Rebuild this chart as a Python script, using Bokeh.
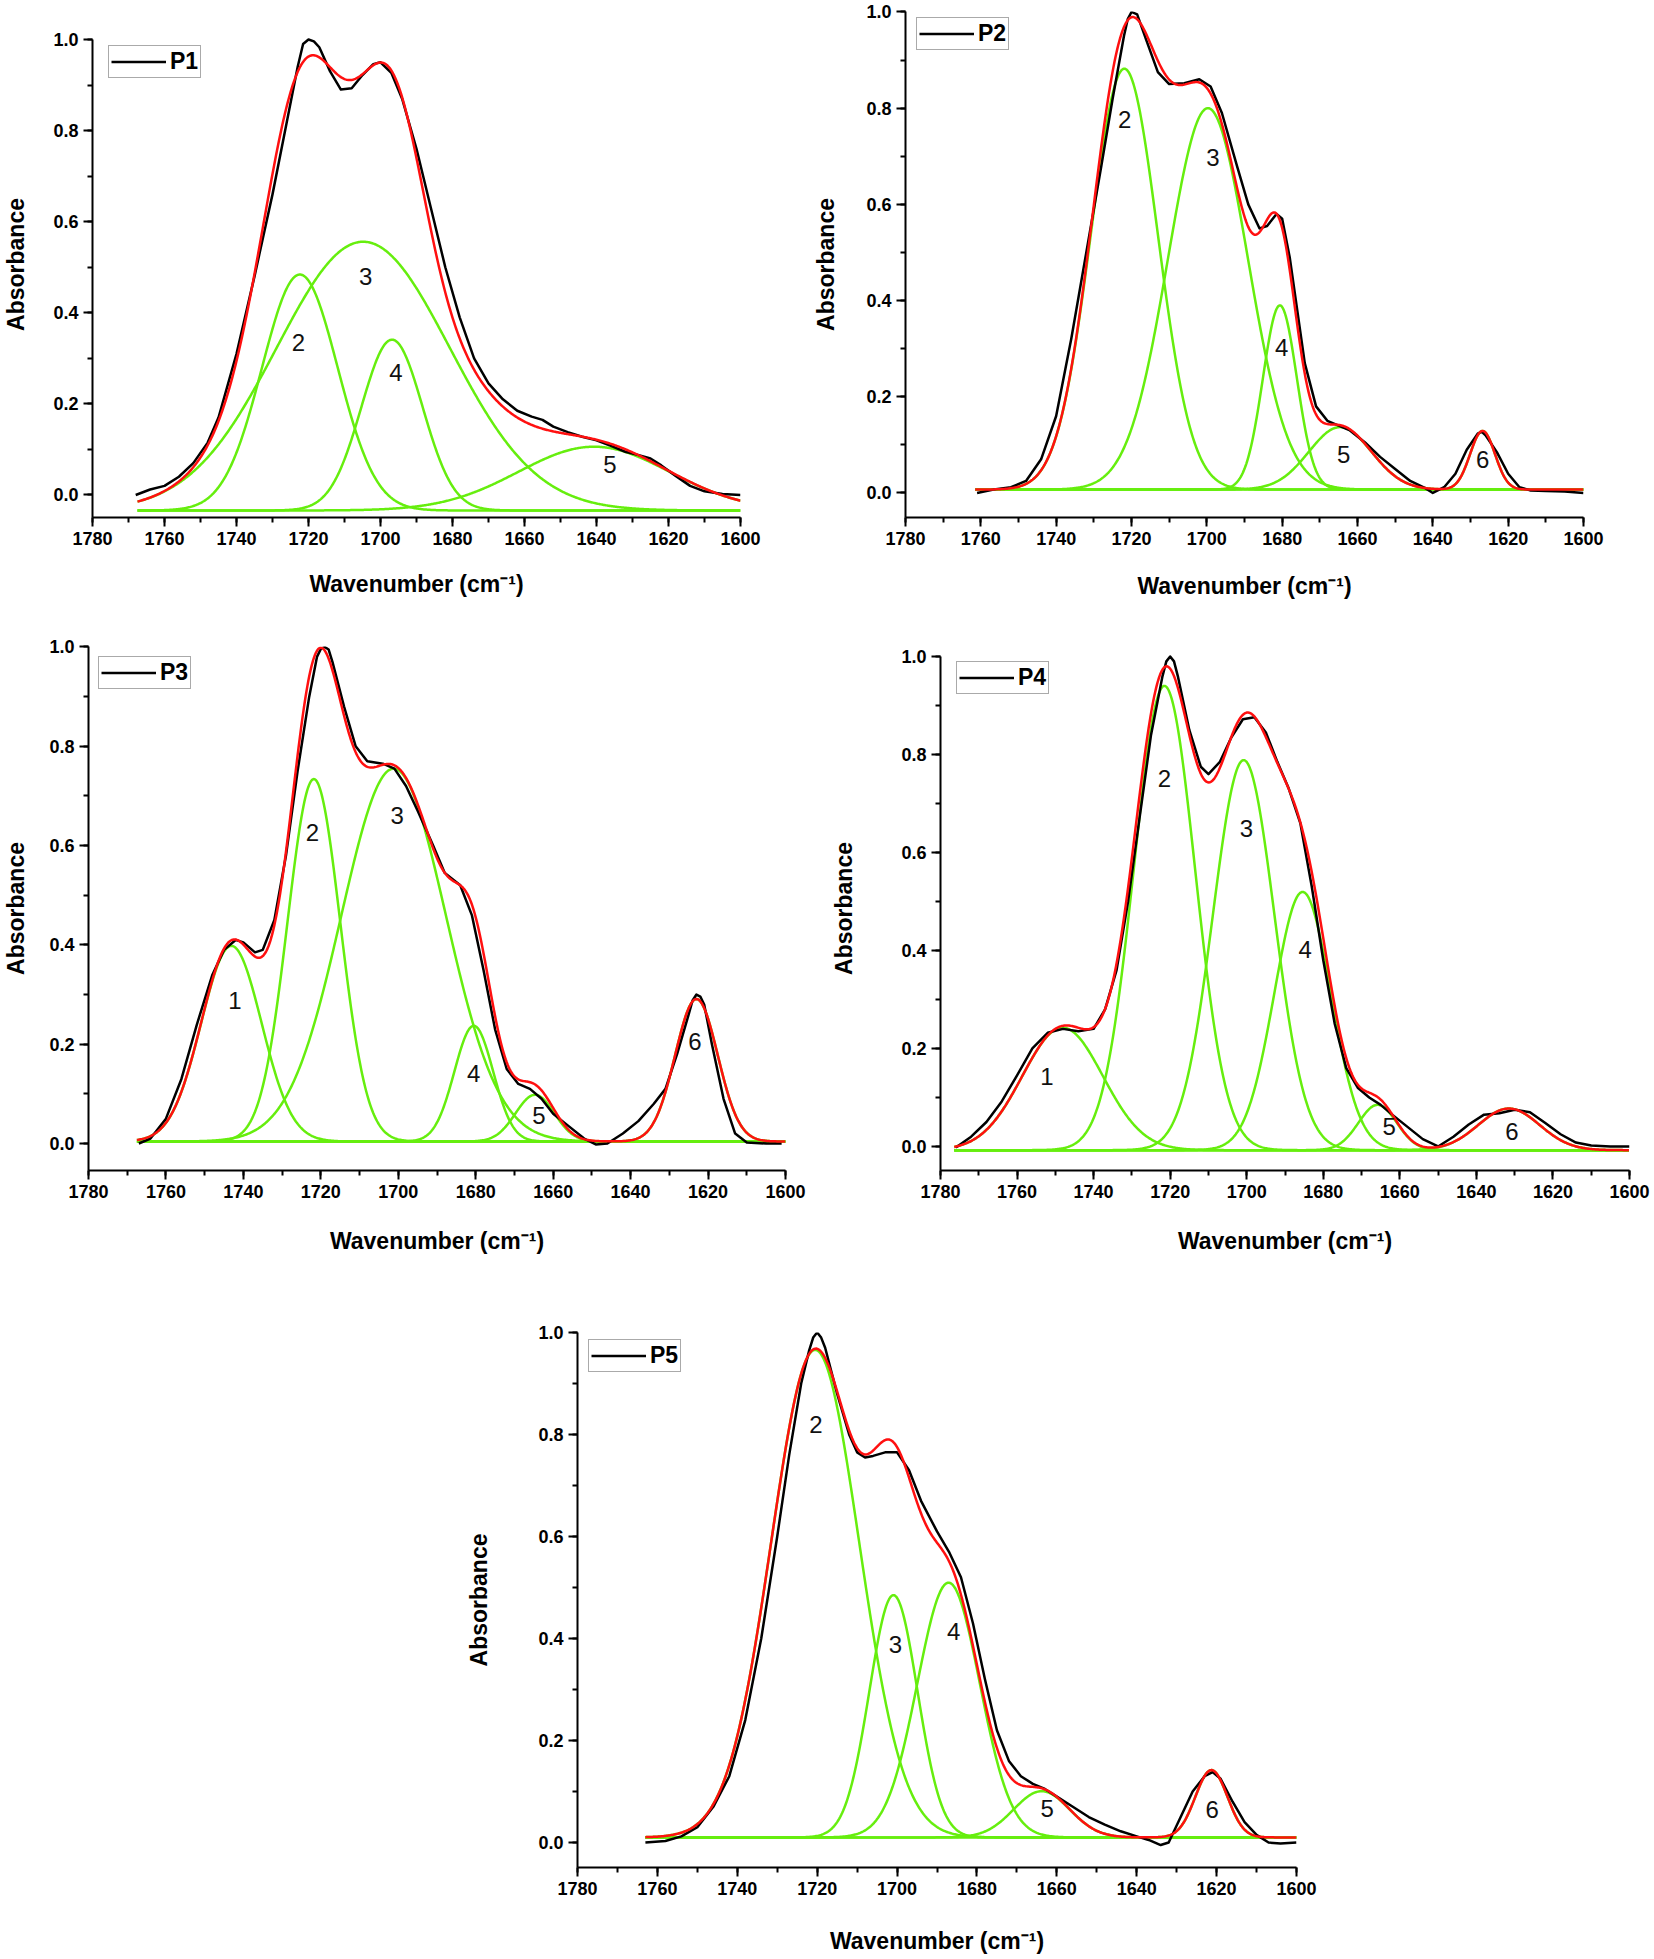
import numpy as np
from bokeh.plotting import figure
from bokeh.models import (Range1d, SingleIntervalTicker, NumeralTickFormatter,
                          Legend, LegendItem, Spacer)
from bokeh.layouts import row, column
from bokeh.embed import file_html
from bokeh.resources import INLINE
from bokeh.core.properties import value

# ---------------- data ----------------
# P1
P1_start = 1767.5
P1_baseline = -0.034
P1_ids = ["2", "3", "4", "5"]
P1_centers = [1722.4, 1704.8, 1696.8, 1640.7]
P1_heights = [0.518, 0.59, 0.375, 0.14]
P1_sigmas = [10.5, 24.0, 8.5, 21.0]
P1_label_wn = [1722.8, 1704.1, 1695.7, 1636.3]
P1_label_abs = [0.334, 0.479, 0.27, 0.067]
P1_meas_wn = [1768, 1764, 1760, 1756, 1752, 1748, 1745, 1740, 1735, 1730, 1726, 1723,
              1721.5, 1720, 1718.5, 1717, 1714, 1711, 1708, 1705, 1702, 1700, 1697, 1694,
              1690, 1686, 1682, 1678, 1674, 1670, 1666, 1662, 1658, 1655, 1652, 1648,
              1644, 1640, 1636, 1632, 1628, 1625, 1622, 1618, 1614, 1610, 1605, 1600]
P1_meas_abs = [0.0, 0.012, 0.02, 0.04, 0.07, 0.115, 0.17, 0.31, 0.48, 0.66, 0.82, 0.94,
               0.99, 1.0, 0.996, 0.983, 0.93, 0.89, 0.893, 0.922, 0.946, 0.95, 0.927, 0.87,
               0.76, 0.63, 0.5, 0.39, 0.3, 0.245, 0.21, 0.185, 0.172, 0.165, 0.15, 0.138,
               0.128, 0.12, 0.108, 0.095, 0.087, 0.08, 0.065, 0.042, 0.02, 0.008, 0.002, 0.0]

# P2
P2_start = 1761.5
P2_baseline = 0.007
P2_ids = ["2", "3", "4", "5", "6"]
P2_centers = [1721.9, 1699.7, 1680.6, 1664.6, 1626.8]
P2_heights = [0.875, 0.793, 0.383, 0.13, 0.122]
P2_sigmas = [8.9, 10.6, 4.5, 8.3, 3.3]
P2_label_wn = [1721.8, 1698.4, 1680.1, 1663.7, 1626.8]
P2_label_abs = [0.776, 0.698, 0.3015, 0.081, 0.069]
P2_meas_wn = [1761, 1756, 1752, 1748, 1744, 1740, 1736, 1732, 1728, 1725, 1722, 1721,
              1720, 1718.5, 1716, 1713, 1710, 1706, 1702, 1699, 1696, 1692, 1689, 1686,
              1684, 1681.5, 1680, 1678, 1676, 1674, 1671, 1668, 1665, 1662, 1658, 1654,
              1650, 1646, 1642, 1640, 1637, 1634, 1631, 1628, 1627, 1626, 1623, 1620,
              1617, 1614, 1610, 1605, 1600]
P2_meas_abs = [0.0, 0.008, 0.012, 0.025, 0.07, 0.16, 0.32, 0.5, 0.68, 0.82, 0.95, 0.985,
               1.0, 0.995, 0.94, 0.875, 0.85, 0.852, 0.86, 0.845, 0.79, 0.68, 0.6, 0.55,
               0.555, 0.58, 0.57, 0.49, 0.38, 0.27, 0.18, 0.15, 0.14, 0.13, 0.105, 0.075,
               0.05, 0.025, 0.01, 0.0, 0.012, 0.04, 0.09, 0.124, 0.127, 0.12, 0.085, 0.04,
               0.012, 0.005, 0.004, 0.003, 0.0]

# P3
P3_start = 1767.5
P3_baseline = 0.004
P3_ids = ["1", "2", "3", "4", "5", "6"]
P3_centers = [1743.1, 1721.8, 1701.2, 1680.5, 1664.7, 1623.0]
P3_heights = [0.394, 0.73, 0.751, 0.233, 0.094, 0.287]
P3_sigmas = [7.8, 6.8, 13.5, 5.0, 5.0, 5.5]
P3_label_wn = [1742.2, 1722.2, 1700.3, 1680.5, 1663.7, 1623.4]
P3_label_abs = [0.289, 0.626, 0.661, 0.141, 0.057, 0.205]
P3_meas_wn = [1767, 1764, 1760, 1756, 1752, 1748, 1745, 1742, 1740, 1737, 1735, 1732,
              1729, 1726, 1723, 1721, 1720, 1719, 1718, 1717, 1714, 1711, 1708, 1704,
              1701, 1698, 1695, 1691, 1688, 1684, 1681, 1678, 1675, 1672, 1669, 1666,
              1663, 1660, 1656, 1652, 1649, 1646, 1642, 1638, 1634, 1631, 1628, 1625,
              1624, 1623, 1622, 1621, 1619, 1616, 1613, 1610, 1605, 1601]
P3_meas_abs = [0.0, 0.01, 0.05, 0.13, 0.24, 0.34, 0.39, 0.41, 0.405, 0.385, 0.39, 0.45,
               0.58, 0.75, 0.9, 0.98, 0.996, 1.0, 0.995, 0.97, 0.88, 0.8, 0.77, 0.765,
               0.755, 0.72, 0.67, 0.6, 0.545, 0.52, 0.46, 0.35, 0.23, 0.15, 0.12, 0.11,
               0.09, 0.06, 0.035, 0.01, -0.002, 0.0, 0.02, 0.045, 0.08, 0.11, 0.18, 0.26,
               0.288, 0.3, 0.296, 0.28, 0.2, 0.09, 0.02, 0.002, 0.0, 0.0]

# P4
P4_start = 1776.4
P4_baseline = -0.0075
P4_ids = ["1", "2", "3", "4", "5", "6"]
P4_centers = [1748.1, 1721.5, 1700.8, 1685.4, 1665.8, 1631.5]
P4_heights = [0.25, 0.9475, 0.796, 0.527, 0.0925, 0.085]
P4_sigmas = [10.5, 8.0, 8.0, 7.4, 5.0, 8.0]
P4_label_wn = [1752.2, 1721.5, 1700.1, 1684.7, 1662.8, 1630.7]
P4_label_abs = [0.143, 0.75, 0.649, 0.403, 0.041, 0.031]
P4_meas_wn = [1776, 1772, 1768, 1764, 1760, 1756, 1752, 1748, 1744, 1740, 1737, 1734,
              1731, 1728, 1725, 1722, 1721, 1720, 1719, 1718, 1715, 1712, 1710, 1707,
              1704, 1701, 1698, 1695, 1692, 1689, 1686, 1683, 1680, 1677, 1674, 1671,
              1668, 1665, 1662, 1658, 1654, 1650, 1646, 1642, 1638, 1634, 1630, 1626,
              1622, 1618, 1614, 1610, 1605, 1600]
P4_meas_abs = [-0.002, 0.02, 0.05, 0.092, 0.145, 0.2, 0.232, 0.24, 0.235, 0.24, 0.28, 0.36,
               0.5, 0.67, 0.84, 0.96, 0.99, 1.0, 0.99, 0.96, 0.85, 0.775, 0.76, 0.785,
               0.835, 0.872, 0.876, 0.845, 0.785, 0.73, 0.66, 0.53, 0.38, 0.25, 0.16, 0.12,
               0.1, 0.085, 0.065, 0.04, 0.015, 0.0, 0.02, 0.045, 0.065, 0.068, 0.075, 0.07,
               0.048, 0.025, 0.008, 0.002, 0.0, 0.0]

# P5
P5_start = 1763.0
P5_baseline = 0.01
P5_ids = ["2", "3", "4", "5", "6"]
P5_centers = [1720.5, 1700.9, 1687.1, 1663.8, 1621.3]
P5_heights = [0.956, 0.475, 0.4995, 0.0906, 0.132]
P5_sigmas = [11.0, 6.0, 7.8, 7.0, 4.0]
P5_label_wn = [1720.3, 1700.4, 1685.8, 1662.4, 1621.1]
P5_label_abs = [0.82, 0.389, 0.414, 0.066, 0.064]
P5_meas_wn = [1763, 1758, 1754, 1750, 1746, 1742, 1738, 1734, 1730, 1727, 1724, 1722,
              1721, 1720, 1719, 1718, 1715, 1712, 1710, 1708, 1706, 1703, 1700, 1697,
              1694, 1690, 1687, 1684, 1681, 1678, 1675, 1672, 1669, 1666, 1663, 1660,
              1656, 1652, 1648, 1644, 1640, 1637, 1634, 1632, 1629, 1626, 1623, 1621,
              1619, 1616, 1613, 1610, 1607, 1604, 1600]
P5_meas_abs = [0.0, 0.003, 0.012, 0.03, 0.07, 0.13, 0.24, 0.4, 0.6, 0.76, 0.9, 0.965,
               0.99, 1.0, 0.99, 0.97, 0.88, 0.8, 0.765, 0.755, 0.758, 0.765, 0.765, 0.73,
               0.67, 0.61, 0.57, 0.52, 0.43, 0.32, 0.22, 0.16, 0.13, 0.115, 0.105, 0.09,
               0.07, 0.05, 0.035, 0.022, 0.012, 0.005, -0.005, 0.0, 0.05, 0.1, 0.13, 0.138,
               0.125, 0.08, 0.04, 0.015, 0.0, -0.002, 0.0]

X_TICK_STEP = 20
Y_TICK_STEP = 0.2

# ---------------- styling ----------------
FONT = "Liberation Sans"
GREEN = "#66EE0E"
RED = "#FF1010"
BLACK = "#000000"
LW = 2.5


def panel(name, start, baseline, ids, centers, heights, sigmas, lab_wn, lab_abs,
          meas_wn, meas_abs, geo):
    p = figure(width=geo["w"], height=geo["h"], output_backend="svg",
               toolbar_location=None, x_range=Range1d(1780, 1600),
               y_range=Range1d(geo["ylo"], geo["yhi"]),
               min_border_left=geo["bl"], min_border_right=geo["br"],
               min_border_top=geo["bt"], min_border_bottom=geo["bb"])
    p.outline_line_color = None
    p.xgrid.visible = False
    p.ygrid.visible = False
    p.background_fill_color = "white"
    p.border_fill_color = "white"

    wn = np.arange(start, 1600 - 0.001, -0.25)
    total = np.full_like(wn, baseline)
    for c, h, s in zip(centers, heights, sigmas):
        comp = h * np.exp(-((wn - c) ** 2) / (2 * s * s))
        total += comp
        p.line(wn, baseline + comp, line_color=GREEN, line_width=LW, line_join="round")

    meas = p.line(meas_wn, meas_abs, line_color=BLACK, line_width=LW, line_join="round")
    p.line(wn, total, line_color=RED, line_width=LW, line_join="round")

    p.text(x=lab_wn, y=lab_abs, text=ids, text_font=value(FONT), text_font_size="24px",
           text_align="center", text_baseline="middle", text_color="#111111")

    p.xaxis.ticker = SingleIntervalTicker(interval=X_TICK_STEP, num_minor_ticks=2)
    p.yaxis.ticker = SingleIntervalTicker(interval=Y_TICK_STEP, num_minor_ticks=2)
    p.yaxis.formatter = NumeralTickFormatter(format="0.0")
    p.yaxis.bounds = (geo["ylo"], 1.0)
    p.xaxis.axis_label = "Wavenumber (cm\u207b\u00b9)"
    p.yaxis.axis_label = "Absorbance"
    for ax in (p.xaxis[0], p.yaxis[0]):
        ax.axis_line_width = 2
        ax.axis_line_color = "black"
        ax.major_tick_line_width = 2
        ax.minor_tick_line_width = 2
        ax.major_tick_out = 9
        ax.major_tick_in = 0
        ax.minor_tick_out = 5
        ax.minor_tick_in = 0
        ax.major_label_text_font = FONT
        ax.major_label_text_font_style = "bold"
        ax.major_label_text_font_size = "18px"
        ax.major_label_text_color = "black"
        ax.major_label_standoff = 5
        ax.axis_label_text_font = FONT
        ax.axis_label_text_font_style = "bold"
        ax.axis_label_text_font_size = "23px"
        ax.axis_label_text_color = "black"
    p.xaxis[0].axis_label_standoff = geo["xs"]
    p.yaxis[0].axis_label_standoff = geo["ys"]

    fh = geo["h"] - geo["bt"] - geo["bb"]
    box_h = 30
    legend = Legend(items=[LegendItem(label=name, renderers=[meas])],
                    location=(geo["lx"], fh - geo["ly"] - box_h),
                    label_text_font=FONT, label_text_font_style="bold",
                    label_text_font_size="23px", label_text_color="black",
                    glyph_width=55, glyph_height=23, label_height=23,
                    label_standoff=4, padding=2, spacing=0, margin=0,
                    border_line_color="#555555", border_line_width=1,
                    background_fill_color="white", background_fill_alpha=1.0)
    p.add_layout(legend)
    return p


# frames of one row share top/bottom; each panel keeps its own y scale
G1 = dict(w=810, h=615, bl=92, br=70, bt=11, bb=98, xs=23, ys=21, lx=16, ly=37,
          ylo=-0.0494, yhi=-0.0494 + 506 / 455.5)
G2 = dict(w=803, h=615, bl=90, br=30, bt=11, bb=98, xs=25, ys=24, lx=11, ly=9,
          ylo=-0.051, yhi=-0.051 + 506 / 481.0)
G3 = dict(w=828, h=685, bl=83, br=43, bt=31, bb=130, xs=27, ys=17, lx=10, ly=13,
          ylo=-0.0544, yhi=-0.0544 + 524 / 496.5)
G4 = dict(w=826, h=685, bl=108, br=25, bt=31, bb=130, xs=27, ys=41, lx=16, ly=18,
          ylo=-0.049, yhi=-0.049 + 524 / 490.0)
G5 = dict(w=876, h=659, bl=117, br=40, bt=32, bb=92, xs=30, ys=43, lx=11, ly=10,
          ylo=-0.049, yhi=1.0)

f1 = panel("P1", P1_start, P1_baseline, P1_ids, P1_centers, P1_heights, P1_sigmas,
           P1_label_wn, P1_label_abs, P1_meas_wn, P1_meas_abs, G1)
f2 = panel("P2", P2_start, P2_baseline, P2_ids, P2_centers, P2_heights, P2_sigmas,
           P2_label_wn, P2_label_abs, P2_meas_wn, P2_meas_abs, G2)
f3 = panel("P3", P3_start, P3_baseline, P3_ids, P3_centers, P3_heights, P3_sigmas,
           P3_label_wn, P3_label_abs, P3_meas_wn, P3_meas_abs, G3)
f4 = panel("P4", P4_start, P4_baseline, P4_ids, P4_centers, P4_heights, P4_sigmas,
           P4_label_wn, P4_label_abs, P4_meas_wn, P4_meas_abs, G4)
f5 = panel("P5", P5_start, P5_baseline, P5_ids, P5_centers, P5_heights, P5_sigmas,
           P5_label_wn, P5_label_abs, P5_meas_wn, P5_meas_abs, G5)

layout = column(row(f1, f2), row(f3, f4), row(Spacer(width=460, height=659), f5))

open("out.html", "w").write(file_html(layout, INLINE, title="FTIR deconvolution"))
